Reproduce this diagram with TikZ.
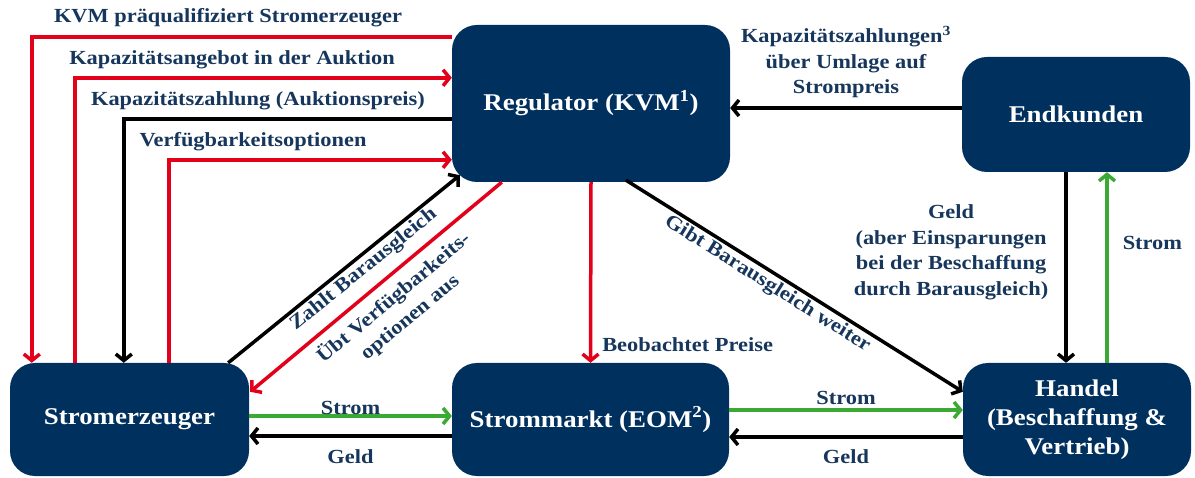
\documentclass[tikz,border=0pt]{standalone}
\usepackage{fontspec}
\setmainfont[FakeStretch=1.12]{Liberation Serif}
\usepackage{tikz}
\usetikzlibrary{positioning,arrows.meta,calc}
\definecolor{boxblue}{RGB}{0,48,94}
\definecolor{txtblue}{RGB}{22,54,92}
\definecolor{kvmred}{RGB}{226,0,26}
\definecolor{flowgreen}{RGB}{58,170,53}

\begin{document}
\begin{tikzpicture}[
  x=1pt, y=-1pt,
  >={Straight Barb[length=6.5pt,width=16pt]},
  box/.style={fill=boxblue, rounded corners=25pt, text=white, align=center, font=\fontsize{24}{29}\selectfont\bfseries, inner sep=0pt},
  lbl/.style={text=txtblue, align=center, font=\fontsize{20}{25.5}\selectfont\bfseries, inner sep=2pt},
  redline/.style={draw=kvmred, line width=3.5pt},
  blkline/.style={draw=black, line width=3.5pt},
  grnline/.style={draw=flowgreen, line width=3.5pt}
]
\useasboundingbox (0,0) rectangle (1195,478);

\node[box, minimum width=278pt, minimum height=157pt] (reg) at (591,103.5) {Regulator (KVM\textsuperscript{1})};
\node[box, minimum width=228pt, minimum height=115pt] (end) at (1076,114.5) {Endkunden};
\node[box, minimum width=239pt, minimum height=113pt] (erz) at (129.5,419.5) {Stromerzeuger};
\node[box, minimum width=277pt, minimum height=113pt] (str) at (590.5,419.5) {Strommarkt (EOM\textsuperscript{2})};
\node[box, minimum width=228pt, minimum height=113pt] (han) at (1077,419.5) {Handel\\(Beschaffung \&\\Vertrieb)};

% Regulator <-> Stromerzeuger
\draw[redline, ->] ($(reg.north west)+(0,12)$) -| ($(erz.north west)+(22,0)$);
\node[lbl] (prae) at (228,18) {KVM präqualifiziert Stromerzeuger};
\draw[redline, ->] ($(erz.north west)+(65,0)$) |- ($(reg.north west)+(0,53)$);
\node[lbl] (angebot) at (232,60) {Kapazitätsangebot in der Auktion};
\draw[blkline, ->] ($(reg.north west)+(0,94)$) -| ($(erz.north west)+(114,0)$);
\node[lbl] (zahlung) at (258,101) {Kapazitätszahlung (Auktionspreis)};
\draw[redline, ->] ($(erz.north west)+(159,0)$) |- ($(reg.north west)+(0,135)$);
\node[lbl] (optionen) at (253,142) {Verfügbarkeitsoptionen};

\draw[blkline, ->] ($(erz.north east)+(-21,0)$) -- node[lbl, sloped, below, pos=0.55] {Zahlt Barausgleich} ($(reg.south west)+(8,-7)$);
\draw[redline, <-] ($(erz.north east)+(1,29)$) -- node[lbl, sloped, below=7pt, pos=0.52, inner sep=0pt] {Übt Verfügbarkeits-\\optionen aus} ($(reg.south west)+(50,0)$);

% Regulator -> Markt und Handel
\draw[redline, ->] (reg.south) -- node[lbl, right=8pt, pos=0.9] {Beobachtet Preise} (str.north);
\draw[blkline, ->] ($(reg.south)+(35,-2)$) -- node[lbl, sloped, below, pos=0.44] {Gibt Barausgleich weiter} ($(han.north west)+(0,29)$);

% Endkunden
\draw[blkline, ->] ($(end.west)+(0,-6.5)$) -- node[lbl, above=6pt] {Kapazitätszahlungen\textsuperscript{3}\\über Umlage auf\\Strompreis} ($(reg.east)+(0,4.5)$);
\draw[blkline, ->] ($(end.south)+(-10,0)$) -- node[lbl, left=14pt, pos=0.42] {Geld\\(aber Einsparungen\\bei der Beschaffung\\durch Barausgleich)} ($(han.north)+(-11,0)$);
\draw[grnline, ->] ($(han.north)+(30,0)$) -- node[lbl, right=12pt, pos=0.63] {Strom} ($(end.south)+(31,0)$);

% Strom und Geld
\draw[grnline, ->] ($(erz.east)+(0,-3.5)$) -- node[lbl, above, inner sep=0pt] {Strom} ($(str.west)+(0,-3.5)$);
\draw[blkline, ->] ($(str.west)+(0,16.5)$) -- node[lbl, below=10pt] {Geld} ($(erz.east)+(0,16.5)$);
\draw[grnline, ->] ($(str.east)+(0,-9.5)$) -- node[lbl, above=2pt] {Strom} ($(han.west)+(0,-9.5)$);
\draw[blkline, ->] ($(han.west)+(0,17.5)$) -- node[lbl, below=9pt] {Geld} ($(str.east)+(0,17.5)$);
\end{tikzpicture}
\end{document}
